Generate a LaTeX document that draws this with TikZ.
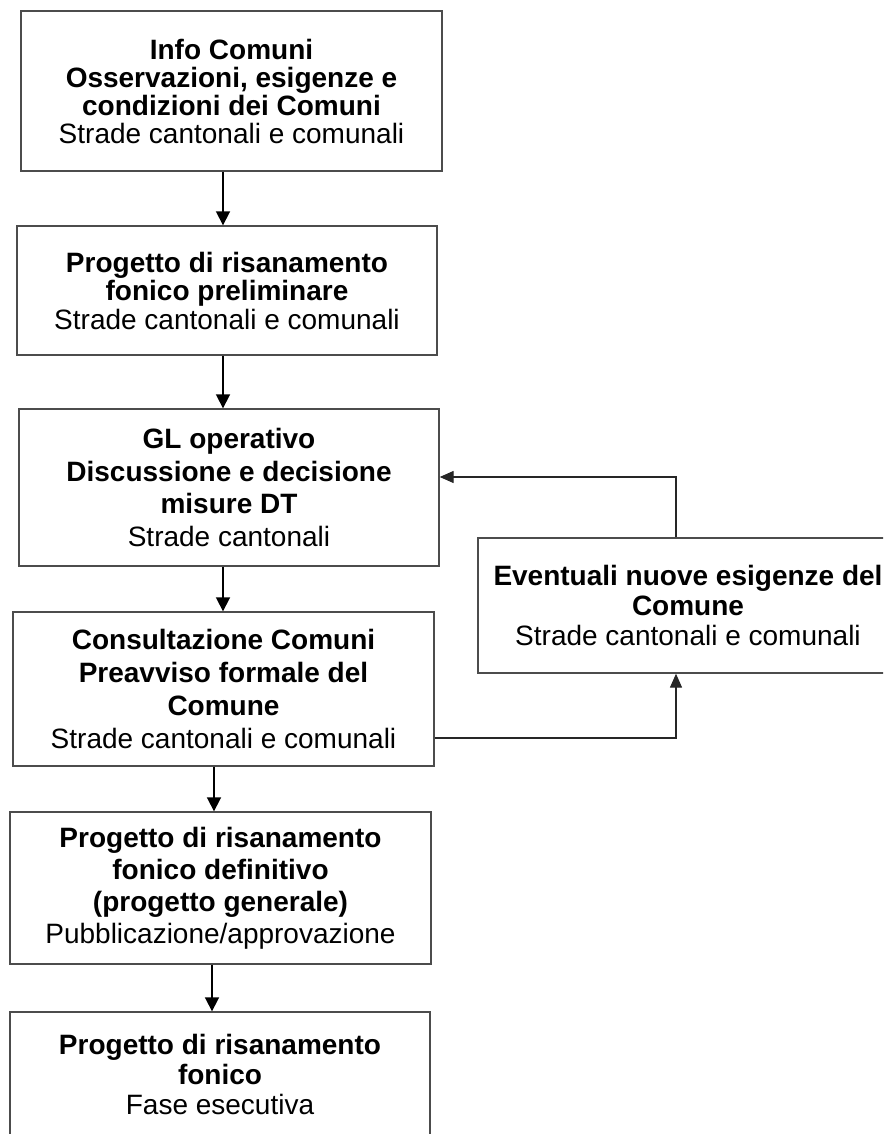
\documentclass[tikz,border=0pt]{standalone}
\usepackage{fontspec}
\setmainfont{Liberation Sans}
\usetikzlibrary{arrows.meta}
\begin{document}
\begin{tikzpicture}[x=1pt,y=-1pt,
  box/.style={draw=black!70,line width=1.4pt,rectangle,inner sep=0pt,align=center,fill=white},
  arr/.style={draw=black,line width=1.8pt,-{Triangle[width=14pt,length=14pt]}},
  fb/.style={draw=black!85,line width=1.4pt,-{Triangle[width=12pt,length=14pt]}}]
\useasboundingbox (0,0) rectangle (883,1134);
\clip (0,0) rectangle (883,1134);
\fill[white] (0,0) rectangle (883,1134);

\node[box,minimum width=421pt,minimum height=160pt,font=\fontsize{28pt}{28pt}\selectfont] (b1) at (231.5,91)
  {\textbf{Info Comuni}\\ \textbf{Osservazioni, esigenze e}\\ \textbf{condizioni dei Comuni}\\ Strade cantonali e comunali};
\node[box,minimum width=420pt,minimum height=129pt,font=\fontsize{28pt}{28.5pt}\selectfont] (b2) at (227,290.5)
  {\textbf{Progetto di risanamento}\\ \textbf{fonico preliminare}\\ Strade cantonali e comunali};
\node[box,minimum width=420pt,minimum height=157pt,font=\fontsize{28pt}{32.5pt}\selectfont] (b3) at (229,487.5)
  {\textbf{GL operativo}\\ \textbf{Discussione e decisione}\\ \textbf{misure DT}\\ Strade cantonali};
\node[box,minimum width=421pt,minimum height=154pt,font=\fontsize{28pt}{33pt}\selectfont] (b4) at (223.5,689)
  {\textbf{Consultazione Comuni}\\ \textbf{Preavviso formale del}\\ \textbf{Comune}\\ Strade cantonali e comunali};
\node[box,minimum width=421pt,minimum height=152pt,font=\fontsize{28pt}{32pt}\selectfont] (b5) at (220.5,888)
  {\textbf{Progetto di risanamento}\\ \textbf{fonico definitivo}\\ \textbf{(progetto generale)}\\ Pubblicazione/approvazione};
\node[box,minimum width=420pt,minimum height=124pt,font=\fontsize{28pt}{30pt}\selectfont] (b6) at (220,1074)
  {\textbf{Progetto di risanamento}\\ \textbf{fonico}\\ Fase esecutiva};
\node[box,minimum width=420pt,minimum height=135pt,font=\fontsize{28pt}{30pt}\selectfont] (ev) at (688,605.5)
  {\textbf{Eventuali nuove esigenze del}\\ \textbf{Comune}\\ Strade cantonali e comunali};

\coordinate (xa) at (223,0);
\coordinate (xb) at (214,0);
\coordinate (xc) at (212,0);
\coordinate (xv) at (676,0);
\coordinate (yt) at (0,477);
\coordinate (yb) at (0,738);

\draw[arr] (b1.south -| xa) -- (b2.north -| xa);
\draw[arr] (b2.south -| xa) -- (b3.north -| xa);
\draw[arr] (b3.south -| xa) -- (b4.north -| xa);
\draw[arr] (b4.south -| xb) -- (b5.north -| xb);
\draw[arr] (b5.south -| xc) -- (b6.north -| xc);

\draw[fb] (ev.north -| xv) -- (xv |- yt) -- (b3.east |- yt);
\draw[fb] (b4.east |- yb) -- (xv |- yb) -- (ev.south -| xv);
\end{tikzpicture}
\end{document}
